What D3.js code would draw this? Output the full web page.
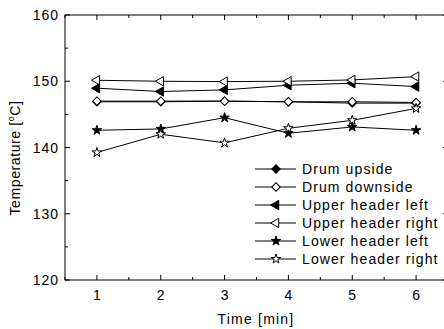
<!DOCTYPE html>
<meta charset="utf-8">
<style>
body { margin: 0; background: #fff; }
text { font-family: "Liberation Sans", Arial, sans-serif; fill: #000; }
</style>
<body>
<script src="https://d3js.org/d3.v7.min.js"></script>
<script>
var times = [1, 2, 3, 4, 5, 6];
var drumUp = [146.9, 146.9, 147.0, 146.9, 146.7, 146.7];
var drumDown = [147.0, 147.0, 147.0, 146.9, 146.9, 146.8];
var upperLeft = [148.95, 148.45, 148.7, 149.4, 149.7, 149.2];
var upperRight = [150.15, 150.0, 149.95, 150.0, 150.2, 150.7];
var lowerLeft = [142.6, 142.8, 144.5, 142.15, 143.1, 142.6];
var lowerRight = [139.25, 142.0, 140.7, 142.9, 144.1, 145.9];
var yTicks = [120, 130, 140, 150, 160];

var series = [
  { name: "Drum upside", values: drumUp, shape: "diamond", filled: true },
  { name: "Drum downside", values: drumDown, shape: "diamond", filled: false },
  { name: "Upper header left", values: upperLeft, shape: "tri", filled: true },
  { name: "Upper header right", values: upperRight, shape: "tri", filled: false },
  { name: "Lower header left", values: lowerLeft, shape: "star", filled: true },
  { name: "Lower header right", values: lowerRight, shape: "star", filled: false }
];

var width = 444, height = 329;
var margin = {left: 65, top: 15, right: 448, bottom: 280};

var svg = d3.select("body").append("svg")
  .attr("width", width)
  .attr("height", height);

var x = d3.scaleLinear().domain([0.5, 6.5]).range([margin.left, margin.right]);
var y = d3.scaleLinear().domain([120, 160]).range([margin.bottom, margin.top]);

function markerPath(shape) {
  if (shape == "diamond") return d3.symbol().type(d3.symbolSquare).size(36)();
  if (shape == "tri") return d3.symbol().type(d3.symbolTriangle).size(38)();
  return d3.symbol().type(d3.symbolStar).size(28)();
}
function markerRot(shape) {
  if (shape == "diamond") return 45;
  if (shape == "tri") return -90;
  return 0;
}

// frame
svg.append("rect")
  .attr("x", margin.left).attr("y", margin.top)
  .attr("width", margin.right - margin.left).attr("height", margin.bottom - margin.top)
  .attr("fill", "none").attr("stroke", "#000").attr("stroke-width", 1);

// ticks (inward, on all four sides)
var minorX = d3.range(0.5, 6.51, 0.5);
var minorY = d3.range(120, 160.1, 5);
minorX.forEach(function(t) {
  var len = Number.isInteger(t) ? 5 : 3;
  svg.append("line").attr("x1", x(t)).attr("x2", x(t)).attr("y1", margin.bottom).attr("y2", margin.bottom - len).attr("stroke", "#000");
  svg.append("line").attr("x1", x(t)).attr("x2", x(t)).attr("y1", margin.top).attr("y2", margin.top + len).attr("stroke", "#000");
});
minorY.forEach(function(t) {
  var len = t % 10 == 0 ? 5 : 3;
  svg.append("line").attr("x1", margin.left).attr("x2", margin.left + len).attr("y1", y(t)).attr("y2", y(t)).attr("stroke", "#000");
  svg.append("line").attr("x1", margin.right).attr("x2", margin.right - len).attr("y1", y(t)).attr("y2", y(t)).attr("stroke", "#000");
});

svg.selectAll(".xlab").data(times).enter().append("text")
  .attr("x", function(d) { return x(d); })
  .attr("y", margin.bottom + 20)
  .attr("text-anchor", "middle")
  .attr("font-size", "14px")
  .text(function(d) { return d; });

svg.selectAll(".ylab").data(yTicks).enter().append("text")
  .attr("x", margin.left - 6)
  .attr("y", function(d) { return y(d) + 5; })
  .attr("text-anchor", "end")
  .attr("font-size", "14px")
  .attr("letter-spacing", "1px")
  .text(function(d) { return d; });

svg.append("text")
  .attr("x", 256).attr("y", 324)
  .attr("text-anchor", "middle")
  .attr("font-size", "14px")
  .attr("letter-spacing", "1.2px")
  .text("Time [min]");

var yt = svg.append("text")
  .attr("transform", "translate(20,158) rotate(-90)")
  .attr("text-anchor", "middle")
  .attr("font-size", "14px")
  .attr("letter-spacing", "0.6px");
yt.append("tspan").text("Temperature [");
yt.append("tspan").attr("font-size", "9px").attr("dy", "-6").text("o");
yt.append("tspan").attr("dy", "6").text("C]");

var line = d3.line()
  .x(function(d, i) { return x(times[i]); })
  .y(function(d) { return y(d); });

series.forEach(function(s) {
  svg.append("path")
    .attr("d", line(s.values))
    .attr("fill", "none")
    .attr("stroke", "#000")
    .attr("stroke-width", 1);
});
series.forEach(function(s) {
  svg.selectAll(null).data(s.values).enter().append("path")
    .attr("d", markerPath(s.shape))
    .attr("transform", function(d, i) { return "translate(" + x(times[i]) + "," + y(d) + ") rotate(" + markerRot(s.shape) + ")"; })
    .attr("fill", s.filled ? "#000" : "#fff")
    .attr("stroke", "#000")
    .attr("stroke-width", 1);
});

// legend
var legend = svg.selectAll(".legend").data(series).enter().append("g")
  .attr("transform", function(d, i) { return "translate(255," + (169 + i * 18) + ")"; });
legend.append("line")
  .attr("x1", 0).attr("x2", 41).attr("y1", 0).attr("y2", 0)
  .attr("stroke", "#000");
legend.append("path")
  .attr("d", function(d) { return markerPath(d.shape); })
  .attr("transform", function(d) { return "translate(21,0) rotate(" + markerRot(d.shape) + ")"; })
  .attr("fill", function(d) { return d.filled ? "#000" : "#fff"; })
  .attr("stroke", "#000");
legend.append("text")
  .attr("x", 47).attr("y", 5)
  .attr("font-size", "14px")
  .attr("letter-spacing", "1.1px")
  .text(function(d) { return d.name; });
</script>
</body>
